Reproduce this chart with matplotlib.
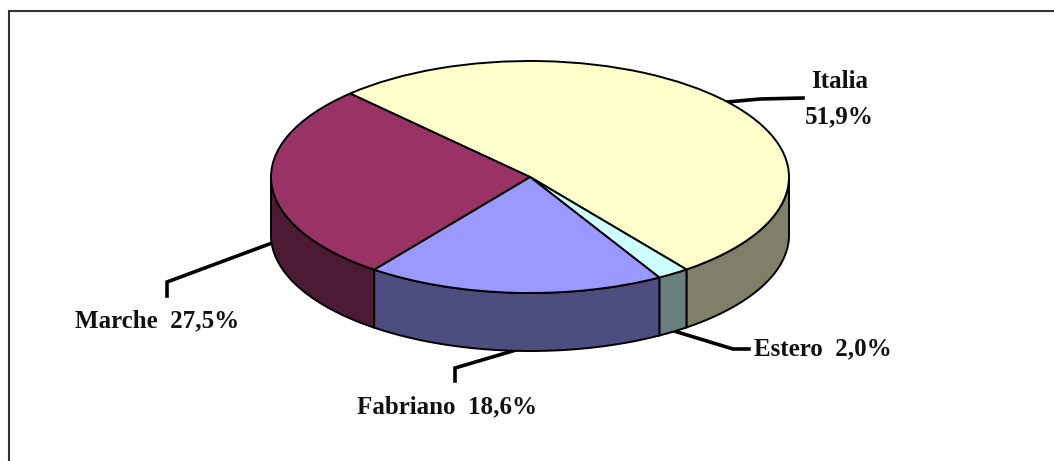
import numpy as np
from matplotlib import pyplot as plt
from matplotlib.patches import Polygon

W, H = 1054, 461

# dati delle fette, in senso orario da sinistra in alto
names = ['Italia', 'Estero', 'Fabriano', 'Marche']
shares = [51.9, 2.0, 18.6, 27.5]
top_colors = ['#FFFFCC', '#CCFFFF', '#9999FF', '#993366']
side_colors = ['#80806A', '#6A8080', '#4D4D80', '#4D1A33']
start = 134

# geometria in pixel
cx, cy = 530, 177
rx, ry = 259, 116
depth = 58

fig = plt.figure(figsize=(W / 100, H / 100), dpi=100)
ax = fig.add_axes([0, 0, 1, 1])
plt.rcParams['font.family'] = ['Liberation Serif']

# la torta: 1 unita = rx pixel in orizzontale, ry in verticale
wedges, _ = ax.pie(shares, colors=top_colors, startangle=start, counterclock=False, radius=1,
                   wedgeprops={'edgecolor': 'black', 'linewidth': 1.4, 'zorder': 3})
ax.set_xlim(-cx / rx, (W - cx) / rx)
ax.set_ylim(-(H - cy) / ry, cy / ry)
ax.set_aspect('auto')
ax.axis('on')
ax.set_xticks([])
ax.set_yticks([])
for s in ax.spines.values():
    s.set_visible(False)

# pareti laterali, solo la parte davanti
d = depth / ry
a = start
for share, col in zip(shares, side_colors):
    b = a - share * 3.6
    lo, hi = max(b, -180), min(a, 0)
    if hi > lo:
        t = np.radians(np.linspace(lo, hi, 80))
        xs = np.cos(t)
        ys = np.sin(t)
        pts = np.column_stack([np.r_[xs, xs[::-1]], np.r_[ys, ys[::-1] - d]])
        ax.add_patch(Polygon(pts, facecolor=col, edgecolor='black', linewidth=1.4, zorder=2))
    a = b


def px(x, y):
    return (x - cx) / rx, (cy - y) / ry


# cornice: solo sinistra e alto
frame = [px(9, 461), px(9, 11.5), px(1054, 11.5)]
ax.plot([q[0] for q in frame], [q[1] for q in frame], color='#333333', linewidth=1.5, zorder=1,
        solid_joinstyle='miter')

# linee guida
leaders = [
    ([727, 760, 803], [102, 99, 98]),
    ([674, 733, 749], [331, 349, 349]),
    ([516, 455, 455], [350, 368, 381]),
    ([272, 167, 167], [243, 282, 296]),
]
for lx, ly in leaders:
    p = [px(x, y) for x, y in zip(lx, ly)]
    ax.plot([q[0] for q in p], [q[1] for q in p], color='black', linewidth=2.6, zorder=1.5,
            solid_joinstyle='miter')

# etichette
labels = [
    ('Italia', 840, 82), ('51,9%', 839, 117),
    ('Estero  2,0%', 823, 349), ('Fabriano  18,6%', 447, 407), ('Marche  27,5%', 157, 321),
]
for text, x, y in labels:
    tx, ty = px(x, y)
    ax.text(tx, ty, text, ha='center', va='center', fontsize=18, fontweight='bold',
            color='#111111', family='Liberation Serif')

fig.savefig('out.png', dpi=100)
